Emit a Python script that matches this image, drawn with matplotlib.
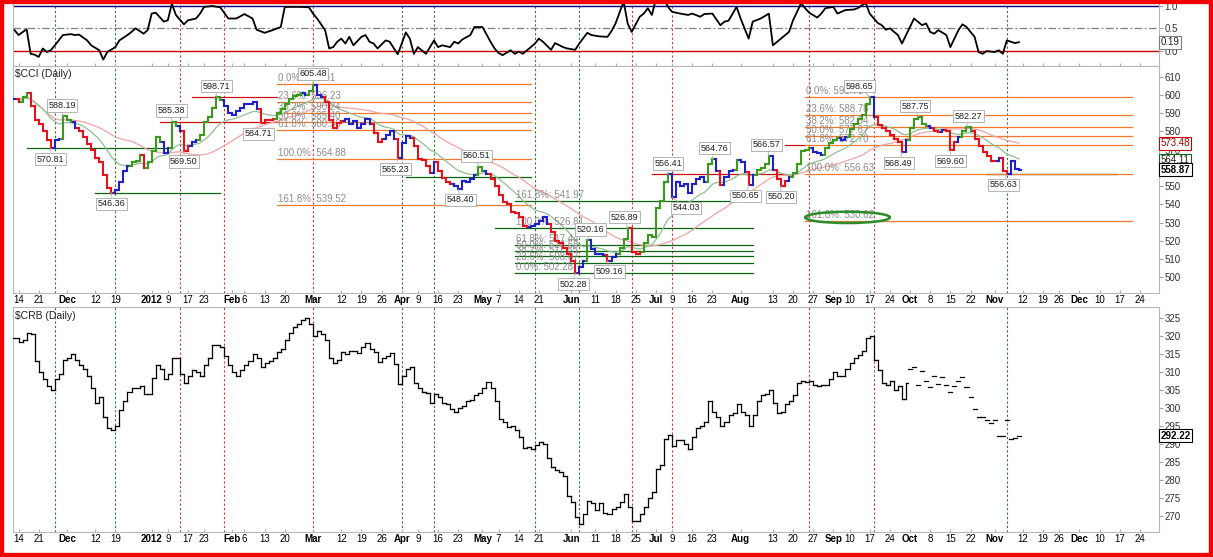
import numpy as np
import pandas as pd
import matplotlib
matplotlib.use("Agg")
from matplotlib import pyplot as plt
from matplotlib.collections import LineCollection
from matplotlib.patches import Ellipse, Rectangle

plt.rcParams['font.family'] = ['Liberation Sans', 'DejaVu Sans']

# trading calendar, position 0 = 2011-11-10
holidays = ["2011-11-24", "2011-12-26", "2012-01-02", "2012-01-16", "2012-02-20", "2012-04-06",
            "2012-05-28", "2012-07-04", "2012-09-03", "2012-10-29", "2012-10-30", "2012-11-22",
            "2012-12-25"]
days = pd.bdate_range("2011-11-10", "2012-12-31")
days = days[~days.isin(pd.to_datetime(holidays))]
data_start = "2011-11-11"

# $CCI daily closes, 2011-11-11 .. 2012-11-09
cci_close = [
    598, 596, 599, 601, 594, 586, 584, 580, 575, 570.81,
    575, 576, 588.19, 586, 585, 582, 580, 577, 573, 570,
    565.5, 563, 556, 549, 546.36, 548, 552, 558, 561, 563,
    564, 567, 560, 563, 569, 577, 574, 568, 571, 585.38,
    583, 580, 569.5, 572, 574, 575, 578, 585, 588, 593,
    598.71, 597, 594, 590, 589, 591, 593, 595, 595, 596,
    592, 584.71, 586, 586, 587, 590, 592, 595, 597.5, 599.5,
    600, 601, 600, 602, 605.48, 600, 599, 596, 586, 582,
    584.8, 585.7, 586.5, 584, 585.5, 582, 584, 586.5, 584, 579,
    574, 575.7, 578, 580, 576, 565.23, 573.5, 577.5, 576.6, 572,
    565, 564.5, 561, 557, 563, 558, 554.5, 552.5, 551, 550,
    548.4, 553, 552, 554, 556, 560.51, 558, 556.5, 554, 550,
    545, 541, 540, 536, 535, 533, 528, 527.5, 528, 529,
    531, 533, 529, 525, 520, 519, 516, 512.5, 509, 502.28,
    505.5, 509, 520.16, 515.5, 512.7, 513, 512, 509.16, 511, 512.7,
    516, 521, 526.89, 514, 512.5, 514, 519, 523, 522, 538,
    542, 552, 556.41, 544.03, 552, 550, 551, 546, 551, 554,
    554.7, 552, 562, 564.76, 558, 550.5, 555, 558, 559, 564.5,
    563, 557.5, 550.65, 556, 559, 560, 562, 566.57, 559, 554,
    550.2, 553, 555, 557, 562, 569, 570, 571, 568.5, 568,
    567, 571, 573.5, 575, 576.6, 575.5, 577, 581.5, 584, 586.5,
    589, 595, 598.65, 588, 583.5, 582, 580, 578, 576, 574,
    568.49, 575.5, 582, 586.5, 587.75, 584, 583, 582, 580, 579.5,
    581, 580, 569.6, 574, 577, 580, 582.27, 580, 576, 572,
    568.5, 566.5, 564, 563.5, 565.5, 558, 556.63, 563.5, 559.5, 558.87,
]

# $CRB daily closes, same dates
crb_close = [
    319.5, 318.3, 319, 321, 320.5, 313, 310, 308, 306, 305,
    308, 309.5, 313.5, 314, 315, 313.5, 312, 311, 309, 305.5,
    301.5, 303, 297.5, 294.5, 294, 295, 299.5, 302, 304.5, 305.5,
    305.5, 306, 304, 304, 308.5, 312, 311, 308, 309.5, 314,
    313.8, 309.5, 307, 309, 310.5, 310, 309, 312, 314, 317.5,
    317.5, 317, 314.5, 312, 310, 309, 310.5, 312, 313, 315,
    314, 311.5, 312.5, 313, 314, 315.5, 316.5, 319, 321, 322.5,
    323.5, 324.5, 325, 323.5, 320, 321.5, 320.5, 319, 314, 312.5,
    313.5, 315.5, 315, 316, 316, 315.3, 317, 318, 316.5, 315.5,
    312.8, 314, 314.5, 315.3, 312.3, 306.8, 309, 311, 311.4, 307,
    305.6, 304.5, 304.2, 301.4, 304, 303, 301.5, 301.2, 299.8, 299,
    300, 300.5, 302, 302.3, 303.5, 304.3, 305.5, 307.2, 305.5, 302,
    297, 296, 294.7, 295, 294, 292, 289, 289.2, 288.7, 289.8,
    290.4, 290, 286.2, 283.5, 282.6, 282.2, 281, 275.5, 273.8, 269.7,
    267.8, 270.5, 274, 273.4, 271.6, 273.5, 270.8, 270.4, 272, 272.5,
    273.8, 276, 272.5, 268.5, 268.5, 270.6, 272.5, 275, 276.5, 283,
    284, 291.5, 292.4, 289.5, 291, 291, 290, 288.5, 292, 294.5,
    295, 296, 302, 299, 297.5, 295, 296, 298, 298.5, 301,
    299, 298, 295, 298, 302, 303.5, 304, 305, 301.5, 298.5,
    299, 301, 302, 303.5, 307, 307.5, 307.3, 307.5, 306.5, 306,
    306.3, 306.5, 308, 310, 309, 309, 310.8, 312.5, 313.8, 314.8,
    316, 319.5, 320.2, 313.5, 310.5, 307, 306.5, 307.5, 305, 306,
    302.5, 307, 311, 311.4, 306.3, 310.3, 307.5, 305.8, 308.8, 306.6,
    308.6, 306.3, 304.4, 306.1, 307.5, 308.6, 305.8, 303.2, 299.6, 297.5,
    297.5, 296.6, 295.8, 296.6, 292.2, 292.2, 296.8, 291.3, 291.7, 292.22,
]
crb_close_only_from = "2012-10-01"   # CRB shows close ticks only from here

# correlation CCI vs CRB: (trading day number, value)
corr_points = [
    (1, 0.46), (2, 0.35), (4, 0.48), (5, -0.07), (6, -0.09), (7, -0.14), (8, 0.05), (9, -0.03),
    (10, 0.01), (11, 0.12), (13, 0.35), (15, 0.37), (16, 0.35), (17, 0.36), (19, 0.23), (20, 0.12),
    (22, 0.01), (23, -0.2), (24, -0.03), (26, 0.08), (27, 0.23), (29, 0.35), (30, 0.42), (31, 0.5),
    (33, 0.38), (34, 0.46), (35, 0.83), (36, 0.85), (38, 0.65), (39, 0.68), (40, 1.05), (41, 0.8),
    (43, 0.59), (44, 0.68), (46, 0.72), (47, 0.83), (48, 0.98), (50, 1.0), (52, 0.97), (54, 0.72),
    (56, 0.72), (58, 0.82), (60, 0.72), (61, 0.47), (63, 0.40), (65, 0.46), (67, 0.53), (68, 0.98),
    (71, 0.98), (72, 0.98), (74, 0.97), (75, 0.83), (76, 0.72), (78, 0.46), (79, 0.05), (80, 0.08),
    (81, 0.2), (82, 0.27), (83, 0.16), (84, 0.31), (85, 0.12), (87, 0.31), (88, 0.35), (89, 0.2),
    (90, 0.16), (91, 0.05), (93, 0.23), (94, 0.2), (96, -0.08), (97, 0.16), (98, 0.41), (99, 0.27),
    (100, -0.07), (101, 0.08), (103, -0.07), (104, 0.08), (105, 0.23), (106, 0.08), (107, 0.12),
    (109, 0.08), (110, 0.2), (111, 0.16), (112, 0.25), (114, 0.35), (115, 0.53), (117, 0.53),
    (119, 0.2), (120, 0.05), (121, -0.05), (122, -0.1), (124, 0.01), (125, -0.07), (126, -0.02),
    (127, -0.07), (129, 0.08), (130, 0.16), (131, 0.27), (132, 0.2), (134, 0.02), (135, 0.17),
    (137, 0.08), (138, 0.05), (140, 0.02), (141, 0.16), (143, 0.4), (144, 0.35), (146, 0.32),
    (148, 0.31), (149, 0.44), (150, 0.61), (152, 1.1), (153, 0.61), (154, 0.42), (156, 0.76),
    (157, 0.83), (158, 0.95), (159, 0.8), (160, 1.15), (162, 1.15), (163, 0.98), (164, 0.87),
    (166, 0.83), (168, 0.8), (169, 0.83), (171, 0.76), (172, 0.82), (174, 0.83), (176, 0.57),
    (177, 0.65), (178, 0.67), (180, 0.98), (181, 0.72), (183, 0.27), (184, 0.65), (186, 0.72),
    (188, 0.83), (189, 0.12), (191, 0.27), (193, 0.42), (194, 0.68), (196, 1.06), (197, 0.95),
    (198, 0.85), (200, 0.74), (201, 0.83), (202, 0.95), (204, 0.98), (205, 0.83), (207, 0.91),
    (209, 0.92), (210, 0.95), (212, 1.07), (213, 0.83), (215, 0.62), (216, 0.57), (217, 0.47),
    (218, 0.5), (220, 0.35), (221, 0.16), (223, 0.53), (224, 0.72), (226, 0.57), (227, 0.61),
    (228, 0.42), (229, 0.38), (230, 0.46), (232, 0.35), (233, 0.08), (235, 0.46), (236, 0.59),
    (237, 0.53), (239, 0.31), (240, -0.03), (241, -0.07), (242, -0.01), (244, -0.03), (245, 0.01),
    (246, -0.07), (247, 0.23), (249, 0.17), (250, 0.19),
]

tick_dates = ["2011-11-14", "2011-11-21", "2011-12-01", "2011-12-12", "2011-12-19", "2012-01-03",
              "2012-01-09", "2012-01-17", "2012-01-23", "2012-02-01", "2012-02-06", "2012-02-13",
              "2012-02-21", "2012-03-01", "2012-03-12", "2012-03-19", "2012-03-26", "2012-04-02",
              "2012-04-09", "2012-04-16", "2012-04-23", "2012-05-01", "2012-05-07", "2012-05-14",
              "2012-05-21", "2012-06-01", "2012-06-11", "2012-06-18", "2012-06-25", "2012-07-02",
              "2012-07-09", "2012-07-16", "2012-07-23", "2012-08-01", "2012-08-13", "2012-08-20",
              "2012-08-27", "2012-09-04", "2012-09-10", "2012-09-17", "2012-09-24", "2012-10-01",
              "2012-10-08", "2012-10-15", "2012-10-22", "2012-11-01", "2012-11-12", "2012-11-19",
              "2012-11-26", "2012-12-03", "2012-12-10", "2012-12-17", "2012-12-24"]
tick_text = ["14", "21", "Dec", "12", "19", "2012", "9", "17", "23", "Feb", "6", "13", "20", "Mar",
             "12", "19", "26", "Apr", "9", "16", "23", "May", "7", "14", "21", "Jun", "11", "18",
             "25", "Jul", "9", "16", "23", "Aug", "13", "20", "27", "Sep", "10", "17", "24", "Oct",
             "8", "15", "22", "Nov", "12", "19", "26", "Dec", "10", "17", "24"]
bold_ticks = ["Dec", "2012", "Feb", "Mar", "Apr", "May", "Jun", "Jul", "Aug", "Sep", "Oct", "Nov"]

vlines_green = ["2011-11-28", "2011-12-19", "2012-04-02", "2012-04-13", "2012-05-18", "2012-06-05",
                "2012-11-06"]
vlines_red = ["2012-01-12", "2012-01-30", "2012-03-01", "2012-06-22", "2012-07-09", "2012-08-24",
              "2012-09-18"]

fib_pcts = ["0.0%", "23.6%", "38.2%", "50.0%", "61.8%", "100.0%", "161.8%"]
fib_mar = [605.91, 596.23, 590.24, 585.40, 580.56, 564.88, 539.52]
fib_sep = [598.71, 588.78, 582.64, 577.67, 572.70, 556.63, 530.62]
fib_jun = [502.28, 508.07, 511.65, 514.55, 517.44, 526.81, 541.97]
fib_mar_span = ("2012-02-16", "2012-05-17")
fib_sep_span = ("2012-08-23", "2012-12-20")
fib_jun_span = ("2012-05-11", "2012-08-06")

# horizontal support / resistance lines: level, from, to, kind
level_lines = [
    (570.81, "2011-11-16", "2012-01-09", "g"),
    (546.36, "2011-12-12", "2012-01-27", "g"),
    (598.71, "2012-01-18", "2012-02-16", "r"),
    (585.38, "2012-01-05", "2012-02-16", "r"),
    (554.80, "2012-04-03", "2012-05-17", "g"),
    (526.81, "2012-05-04", "2012-05-11", "g"),
    (556.41, "2012-06-29", "2012-08-16", "r"),
    (572.70, "2012-08-16", "2012-08-23", "r"),
    (556.63, "2012-10-26", "2012-12-14", "g"),
]

# labelled highs (+1) and lows (-1) of $CCI, with a small sideways shift in pixels
cci_marks = [
    (588.19, 1, -1), (570.81, -1, 0), (546.36, -1, 0), (585.38, 1, 0), (569.50, -1, 0),
    (598.71, 1, 0), (584.71, -1, -2), (605.48, 1, 0), (565.23, -1, -2), (560.51, 1, -2),
    (548.40, -1, 2), (520.16, 1, 3), (526.89, 1, -3), (502.28, -1, -2), (509.16, -1, 2),
    (556.41, 1, 0), (544.03, -1, 14), (564.76, 1, 2), (566.57, 1, -2), (550.65, -1, -3),
    (550.20, -1, 0), (598.65, 1, -10), (568.49, -1, -3), (587.75, 1, -3), (569.60, -1, 0),
    (582.27, 1, 2), (556.63, -1, -3),
]

corr_last, ma_fast_last, ma_slow_last = 0.19, 564.11, 573.48

RED, GREEN, BLUE = "#e3121b", "#3b9a1e", "#2020c8"
ORANGE, DKGREEN, LRED = "#ee7a2a", "#0a6410", "#cc1010"

pos = {d: k for k, d in enumerate(days)}
def P(d):
    return pos[pd.Timestamp(d)]

i0 = P(data_start)
x = np.arange(i0, i0 + len(cci_close))

s = pd.Series(cci_close, dtype=float)
ema13 = s.ewm(span=13, adjust=False).mean()
macd = s.ewm(span=12, adjust=False).mean() - s.ewm(span=26, adjust=False).mean()
hist = macd - macd.ewm(span=9, adjust=False).mean()
up = (ema13.diff() > 0) & (hist.diff() > 0)
dn = (ema13.diff() < 0) & (hist.diff() < 0)
cci_colors = np.where(up, GREEN, np.where(dn, RED, BLUE))
ma_fast = ema13
ma_slow = s.rolling(30, min_periods=1).mean()

W, H = 1213, 557
fig = plt.figure(figsize=(W / 100, H / 100), dpi=100)
fig.patch.set_facecolor("white")

def px_axes(left, top, right, bottom):
    return fig.add_axes([left / W, 1 - bottom / H, (right - left) / W, (bottom - top) / H])

ax_top = px_axes(13, 3, 1158.5, 65.7)
ax_cci = px_axes(13, 65.7, 1158.5, 293.3)
ax_crb = px_axes(13, 307.3, 1158.5, 532)

tick_pos = [P(d) for d in tick_dates]
for ax in (ax_top, ax_cci, ax_crb):
    ax.set_xlim(0.62, 284.6)
    for sp in ax.spines.values():
        sp.set_color("#b8b8b8")
        sp.set_linewidth(0.8)
    ax.yaxis.tick_right()
    ax.tick_params(axis="y", length=3, color="#a0a0a0", pad=1.5, labelsize=7, labelcolor="#303030")
    ax.set_xticks(tick_pos)
    ax.tick_params(axis="x", length=2, direction="in", color="#b0b0b0", pad=1.5, labelsize=7)
    for d in vlines_green:
        ax.axvline(P(d), color="#2f7a2f", lw=0.8, ls=(0, (2, 2)), zorder=1)
    for d in vlines_red:
        ax.axvline(P(d), color="#d03a3a", lw=0.8, ls=(0, (2, 2)), zorder=1)

ax_top.set_xticklabels([])
for ax in (ax_cci, ax_crb):
    ax.set_xticklabels(tick_text)
    for lab in ax.get_xticklabels():
        if lab.get_text() in bold_ticks:
            lab.set_fontweight("bold")


def price_bars(ax, xs, close, colors, lw, tick=0.4, ticks_only_from=None):
    segs, cols = [], []
    for k, c in enumerate(close):
        o = close[k - 1] if k > 0 else c
        xi = xs[k]
        if ticks_only_from is not None and xi >= ticks_only_from:
            segs.append([(xi - 0.5, c), (xi + 0.5, c)])
            cols.append(colors[k])
            continue
        segs += [[(xi, o), (xi, c)], [(xi - tick, o), (xi, o)], [(xi, c), (xi + tick, c)]]
        cols += [colors[k]] * 3
    ax.add_collection(LineCollection(segs, colors=cols, linewidths=lw, capstyle="projecting", zorder=4))


# ---- top: correlation
cd = [p[0] for p in corr_points]
cv = [p[1] for p in corr_points]
ax_top.set_ylim(-0.336, 1.067)
ax_top.set_yticks([0, 0.5, 1.0])
ax_top.set_yticklabels(["0.0", "0.5", "1.0"])
ax_top.axhline(1.0, color="#000080", lw=1.0, zorder=2)
ax_top.axhline(0.5, color="#808080", lw=0.9, ls=(0, (6, 2, 1.5, 2)), zorder=2)
ax_top.axhline(0.0, color="#cc0000", lw=1.0, zorder=2)
ax_top.plot(cd, cv, color="black", lw=1.3, zorder=5)

# ---- middle: $CCI
ax_cci.set_ylim(491.2, 616.0)
ax_cci.set_yticks(range(500, 611, 10))
ax_cci.plot(x, ma_slow, color="#f0a4a4", lw=0.9, zorder=3)
ax_cci.plot(x, ma_fast, color="#90bf90", lw=0.9, zorder=3)
price_bars(ax_cci, x, cci_close, cci_colors, lw=1.5)
ax_cci.text(0.002, 0.985, r"\$CCI (Daily)", transform=ax_cci.transAxes, va="top", ha="left",
            fontsize=7.5, color="#202020")

for lev, a, b, kind in level_lines:
    ax_cci.plot([P(a), P(b)], [lev, lev], color=DKGREEN if kind == "g" else LRED, lw=0.9, zorder=2)

for levels, span, col in ((fib_mar, fib_mar_span, ORANGE), (fib_sep, fib_sep_span, ORANGE),
                          (fib_jun, fib_jun_span, DKGREEN)):
    xa, xb = P(span[0]), P(span[1])
    for pct, lev in zip(fib_pcts, levels):
        ax_cci.plot([xa, xb], [lev, lev], color=col, lw=0.9, zorder=2)
        ax_cci.annotate(f"{pct}: {lev:.2f}", (xa, lev), xytext=(1, 1), textcoords="offset pixels",
                        ha="left", va="bottom", fontsize=7, color="#8c8c8c", zorder=3)

xs_ell = P(fib_sep_span[0])
ax_cci.add_patch(Ellipse((xs_ell + 10.5, fib_sep[-1] + 2.2), 21, 6.2, fill=False,
                         ec="#2a8c2a", lw=1.8, zorder=6))

cc = np.array(cci_close)
for val, side, dx in cci_marks:
    k = int(np.argmin(np.abs(cc - val)))
    ax_cci.annotate(f"{val:.2f}", (x[k], val), xytext=(dx, 11 * side), textcoords="offset pixels",
                    ha="center", va="center", fontsize=6.5, color="#202020", zorder=8,
                    bbox=dict(boxstyle="square,pad=0.18", fc="white", ec="#a8a8a8", lw=0.6),
                    arrowprops=dict(arrowstyle="-", color="#b0b0b0", lw=0.6, shrinkA=0, shrinkB=0))

# ---- bottom: $CRB
ax_crb.set_ylim(265.46, 328.06)
ax_crb.set_yticks(range(270, 326, 5))
price_bars(ax_crb, x, crb_close, ["black"] * len(crb_close), lw=0.9, tick=0.45,
           ticks_only_from=P(crb_close_only_from))
ax_crb.text(0.002, 0.985, r"\$CRB (Daily)", transform=ax_crb.transAxes, va="top", ha="left",
            fontsize=7.5, color="#202020")

# ---- value tags on the right
def tag(ax, val, text, ec, tc="#202020", bold=False):
    ax.annotate(text, (1.0, val), xycoords=("axes fraction", "data"), xytext=(2, 0),
                textcoords="offset pixels", ha="left", va="center", fontsize=7, color=tc,
                fontweight="bold" if bold else "normal", annotation_clip=False, zorder=10,
                bbox=dict(boxstyle="square,pad=0.15", fc="white", ec=ec, lw=0.8))

tag(ax_top, corr_last, f"{corr_last:.2f}", "#808080")
tag(ax_cci, ma_slow_last, f"{ma_slow_last:.2f}", "#cc0000", tc="#a00000")
tag(ax_cci, ma_fast_last, f"{ma_fast_last:.2f}", "#0a6410")
tag(ax_cci, cci_close[-1], f"{cci_close[-1]:.2f}", "black", tc="black", bold=True)
tag(ax_crb, crb_close[-1], f"{crb_close[-1]:.2f}", "black", tc="black", bold=True)

fig.add_artist(Rectangle((0, 0), 1, 1, transform=fig.transFigure, fill=False, ec="#f00000", lw=6))

fig.savefig("out.png", dpi=100)
